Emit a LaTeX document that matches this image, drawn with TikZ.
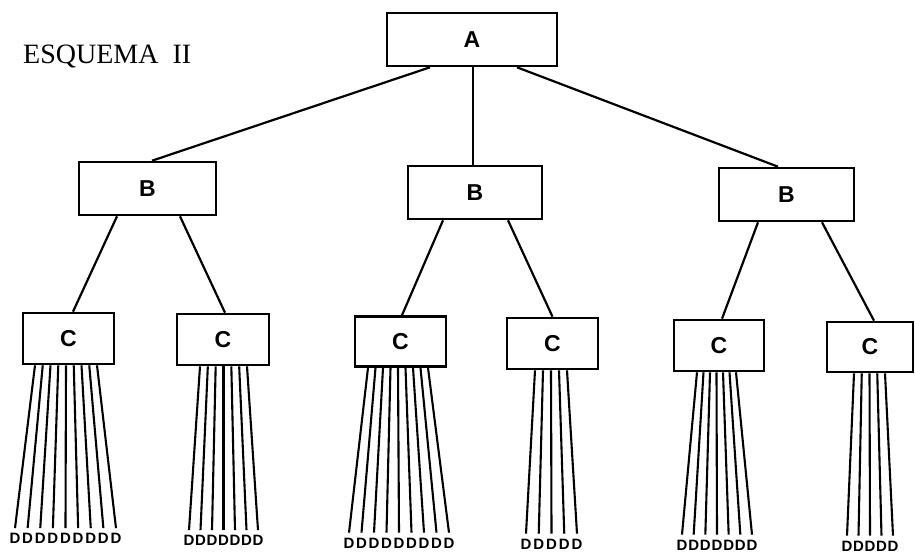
\documentclass[tikz,border=0pt]{standalone}
\usepackage{fontspec}
\setmainfont{Liberation Serif}
\setsansfont{Liberation Sans}
\begin{document}
\begin{tikzpicture}[x=1pt,y=-1pt,
  box/.style={draw,line width=2.6pt,inner sep=0pt,font=\sffamily\bfseries\fontsize{23}{23}\selectfont},
  tie/.style={line width=2.2pt},
  fanline/.style={line width=2.1pt},
  dlabel/.style={font=\sffamily\bfseries\fontsize{15}{15}\selectfont,inner sep=0pt}]
\useasboundingbox (0,0) rectangle (915,555);
\node[anchor=base west,inner sep=0pt,font=\fontsize{28}{28}\selectfont] (title) at (23,63) {ESQUEMA\ \ II};
% level A
\node[box,minimum width=170pt,minimum height=53pt] (A) at (472,39.5) {A};
% level B
\node[box,minimum width=137pt,minimum height=53pt] (B1) at (147.5,188.5) {B};
\node[box,minimum width=134pt,minimum height=53pt] (B2) at (475,192.5) {B};
\node[box,minimum width=135pt,minimum height=53pt] (B3) at (786.5,194.5) {B};
% level C
\node[box,minimum width=91pt,minimum height=51pt] (C1) at (68.5,338.5) {C};
\node[box,minimum width=92pt,minimum height=51pt] (C2) at (223,339.5) {C};
\node[box,minimum width=91pt,minimum height=50pt] (C3) at (400.5,341.5) {C};
\node[box,minimum width=91pt,minimum height=51pt] (C4) at (552.5,343.5) {C};
\node[box,minimum width=90pt,minimum height=51pt] (C5) at (719,345.5) {C};
\node[box,minimum width=86pt,minimum height=50pt] (C6) at (870,347) {C};
% A to B
\draw[tie] ([xshift=-42pt]A.south) -- ([xshift=4.5pt]B1.north);
\draw[tie] ([xshift=1pt]A.south) -- ([xshift=-2pt]B2.north);
\draw[tie] ([xshift=45pt]A.south) -- ([xshift=-8.5pt]B3.north);
% B to C
\draw[tie] ([xshift=-30.5pt]B1.south) -- ([xshift=4.5pt]C1.north);
\draw[tie] ([xshift=32.5pt]B1.south) -- ([xshift=2pt]C2.north);
\draw[tie] ([xshift=-32pt]B2.south) -- ([xshift=1.5pt]C3.north);
\draw[tie] ([xshift=33pt]B2.south) -- ([xshift=0pt]C4.north);
\draw[tie] ([xshift=-28.5pt]B3.south) -- ([xshift=3pt]C5.north);
\draw[tie] ([xshift=35.5pt]B3.south) -- ([xshift=4pt]C6.north);
% fans of D
\foreach \c/\n/\ta/\tb/\ba/\bb/\yd in {
  C1/9/35/97/15/116/538.5,
  C2/7/200/247/189/258/540.5,
  C3/9/368/428/349/449/543,
  C4/5/535/567/526/577/544,
  C5/7/697/736/682/752/545,
  C6/5/854/885/847/893/546}{
  \foreach \i in {1,...,\n}{
    \pgfmathsetmacro\tx{\ta+(\i-1)*(\tb-\ta)/(\n-1)}
    \pgfmathsetmacro\bx{\ba+(\i-1)*(\bb-\ba)/(\n-1)}
    \node[dlabel] (\c-d\i) at (\bx,\yd) {D};
    \draw[fanline] (\c.south -| \tx,0) -- ([yshift=5pt]\c-d\i.north);
  }
}
\end{tikzpicture}
\end{document}
